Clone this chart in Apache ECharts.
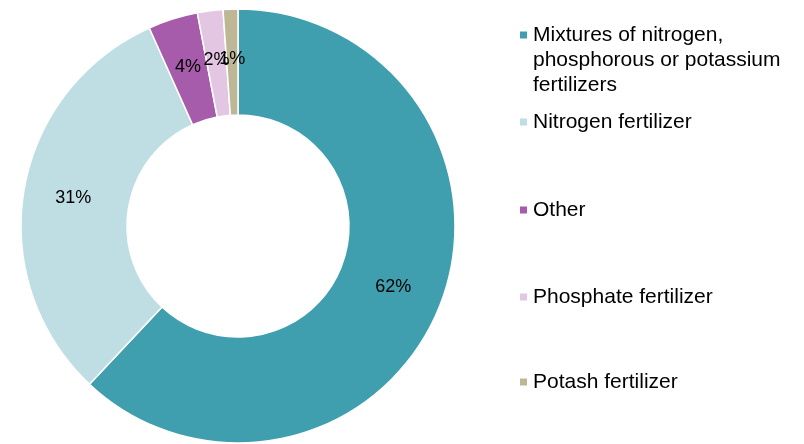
<!DOCTYPE html>
<html>
<head>
<meta charset="utf-8">
<style>
  html, body { margin: 0; padding: 0; background: #fff; }
  #main { width: 804px; height: 444px; }
</style>
<script src="https://cdn.jsdelivr.net/npm/echarts@6/dist/echarts.min.js"></script>
</head>
<body>
<div id="main"></div>
<script>
// fertilizer shares
var categories = [
  'Mixtures of nitrogen, phosphorous or potassium fertilizers',
  'Nitrogen fertilizer',
  'Other',
  'Phosphate fertilizer',
  'Potash fertilizer'
];
var shares = [62, 31.3, 3.7, 1.9, 1.1];
var colors = ['#409FAE', '#BFDEE3', '#A65BAB', '#E2C6E2', '#BDB795'];
// two blank lines in front keep the icon level with the first wrapped line
var legendLabels = [
  '\n\nMixtures of nitrogen,\nphosphorous or potassium\nfertilizers',
  'Nitrogen fertilizer',
  'Other',
  'Phosphate fertilizer',
  'Potash fertilizer'
];
var legendTops = [-27.5, 109.5, 197.5, 284.5, 369.5];

var font = 'Liberation Sans';

var pieData = [];
for (var i = 0; i < categories.length; i++) {
  pieData.push({ name: categories[i], value: shares[i], itemStyle: { color: colors[i] } });
}

var legends = [];
for (var j = 0; j < categories.length; j++) {
  legends.push({
    orient: 'vertical',
    left: 518,
    top: legendTops[j],
    padding: 0,
    icon: 'rect',
    itemWidth: 9,
    itemHeight: 9,
    selectedMode: false,
    data: [categories[j]],
    formatter: function (name) {
      return legendLabels[categories.indexOf(name)];
    },
    textStyle: {
      fontFamily: font,
      fontSize: 21,
      lineHeight: 25,
      color: '#000'
    }
  });
}

var option = {
  animation: false,
  legend: legends,
  series: [{
    type: 'pie',
    center: [238, 226],
    radius: [111, 217],
    startAngle: 90,
    clockwise: true,
    avoidLabelOverlap: false,
    minShowLabelAngle: 0,
    itemStyle: {
      borderColor: '#fff',
      borderWidth: 1.5
    },
    label: {
      show: true,
      position: 'inside',
      fontFamily: font,
      fontSize: 18,
      color: '#000',
      formatter: function (p) {
        return Math.round(p.percent) + '%';
      }
    },
    labelLayout: { hideOverlap: false },
    labelLine: { show: false },
    emphasis: { disabled: true },
    data: pieData
  }]
};

var myChart = echarts.init(document.getElementById('main'));
myChart.setOption(option);
</script>
</body>
</html>
